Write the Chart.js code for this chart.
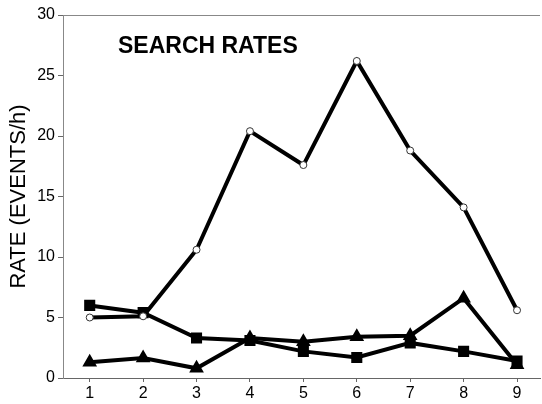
<!DOCTYPE html>
<html>
<head>
<meta charset="utf-8">
<script src="https://cdn.jsdelivr.net/npm/chart.js@4/dist/chart.umd.min.js"></script>
<style>
  html, body { margin: 0; padding: 0; background: #fff; }
  #wrap { width: 542px; height: 404px; }
</style>
</head>
<body>
<div id="wrap"><canvas id="chart"></canvas></div>
<script>
// Data
const sessions = [1, 2, 3, 4, 5, 6, 7, 8, 9];
const circleRates = [5.0, 5.1, 10.6, 20.4, 17.6, 26.2, 18.8, 14.1, 5.6];
const squareRates = [6.0, 5.4, 3.3, 3.1, 2.2, 1.7, 2.9, 2.2, 1.4];
const triangleRates = [1.3, 1.65, 0.8, 3.3, 3.0, 3.4, 3.5, 6.6, 1.1];
const yTicks = [0, 5, 10, 15, 20, 25, 30];

function points(values) {
    return values.map((v, i) => ({ x: sessions[i], y: v }));
}

// Title inside the plot and the top border line
const extras = {
    id: 'extras',
    afterDraw(chart) {
        const ctx = chart.ctx;
        const area = chart.chartArea;
        ctx.save();
        ctx.strokeStyle = '#888';
        ctx.lineWidth = 1;
        ctx.beginPath();
        ctx.moveTo(area.left, area.top + 0.5);
        ctx.lineTo(area.right, area.top + 0.5);
        ctx.stroke();
        ctx.fillStyle = '#000';
        ctx.font = 'bold 23px "Liberation Sans", Arial, sans-serif';
        ctx.textBaseline = 'middle';
        ctx.fillText('SEARCH RATES', 118, 47);
        ctx.restore();
    }
};

const lineStyle = {
    borderColor: '#000',
    borderWidth: 4,
    backgroundColor: '#000',
    tension: 0
};

new Chart(document.getElementById('chart'), {
    type: 'line',
    data: {
        datasets: [
            Object.assign({}, lineStyle, {
                label: 'circles',
                data: points(circleRates),
                pointStyle: 'circle',
                pointRadius: 3.5,
                pointBackgroundColor: '#fff',
                pointBorderColor: '#333',
                pointBorderWidth: 1
            }),
            Object.assign({}, lineStyle, {
                label: 'squares',
                data: points(squareRates),
                pointStyle: 'rect',
                pointRadius: 5
            }),
            Object.assign({}, lineStyle, {
                label: 'triangles',
                data: points(triangleRates),
                pointStyle: 'triangle',
                pointRadius: 4.5
            })
        ]
    },
    options: {
        responsive: true,
        maintainAspectRatio: false,
        animation: false,
        layout: { autoPadding: false, padding: { top: 15, right: 2, left: 0, bottom: 0 } },
        plugins: {
            legend: { display: false },
            tooltip: { enabled: false }
        },
        scales: {
            x: {
                type: 'linear',
                min: 0.5,
                max: 9.43,
                afterBuildTicks(scale) {
                    scale.ticks = sessions.map(v => ({ value: v }));
                },
                afterFit(scale) {
                    scale.height = 26;
                    scale.paddingRight = 0;
                    scale.paddingLeft = 0;
                },
                border: { color: '#666', width: 1 },
                grid: { drawOnChartArea: false, tickLength: 4, color: '#666' },
                ticks: {
                    color: '#000',
                    padding: 2,
                    font: { family: '"Liberation Sans", Arial, sans-serif', size: 16 }
                }
            },
            y: {
                min: 0,
                max: 30,
                afterBuildTicks(scale) {
                    scale.ticks = yTicks.map(v => ({ value: v }));
                },
                afterFit(scale) {
                    scale.width = 63;
                    scale.paddingTop = 0;
                    scale.paddingBottom = 0;
                },
                border: { color: '#888', width: 1 },
                grid: { drawOnChartArea: false, tickLength: 5, color: '#666' },
                ticks: {
                    color: '#000',
                    padding: 3,
                    font: { family: '"Liberation Sans", Arial, sans-serif', size: 16 }
                },
                title: {
                    display: true,
                    text: 'RATE (EVENTS/h)',
                    color: '#000',
                    padding: { top: 6, bottom: 0 },
                    font: { family: '"Liberation Sans", Arial, sans-serif', size: 22 }
                }
            }
        }
    },
    plugins: [extras]
});
</script>
</body>
</html>
